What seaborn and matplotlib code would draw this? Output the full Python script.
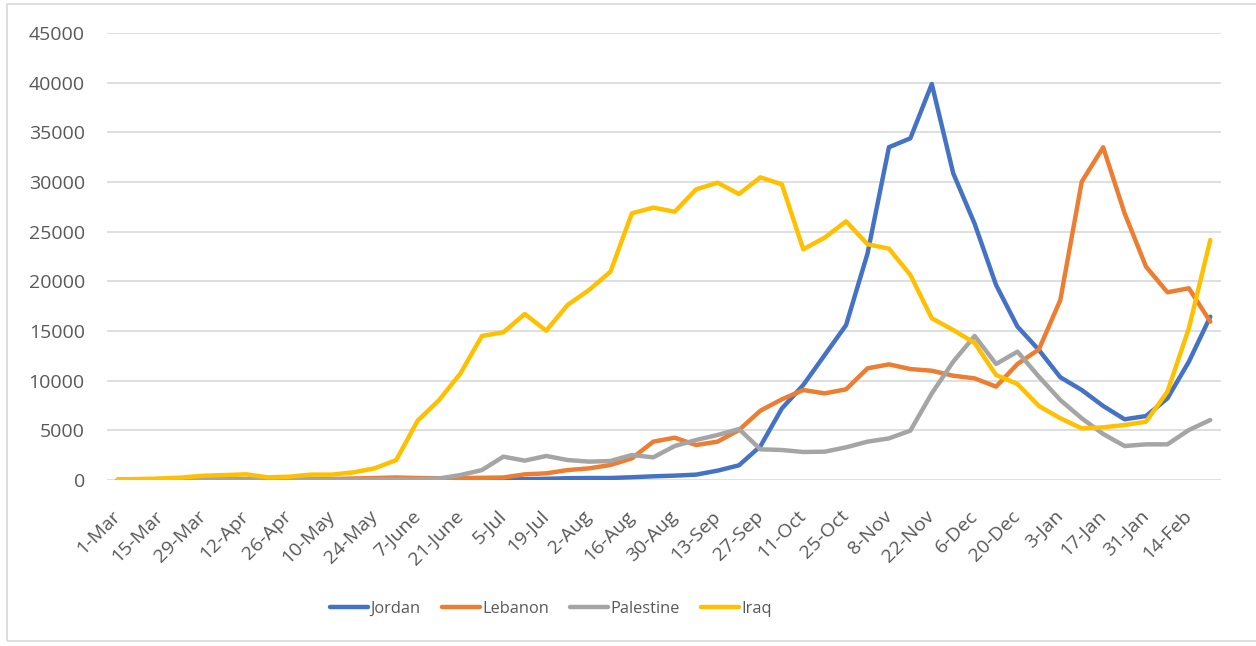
import matplotlib
matplotlib.use("Agg")
import matplotlib.pyplot as plt
from matplotlib.patches import Rectangle
from matplotlib.lines import Line2D
import seaborn as sns
import pandas as pd

# Weekly new cases, week starting dates (Mar 2020 - Feb 2021)
weeks = [
    "1-Mar", "8-Mar", "15-Mar", "22-Mar", "29-Mar", "5-Apr", "12-Apr", "19-Apr",
    "26-Apr", "3-May", "10-May", "17-May", "24-May", "31-May", "7-June", "14-June",
    "21-June", "28-June", "5-Jul", "12-Jul", "19-Jul", "26-Jul", "2-Aug", "9-Aug",
    "16-Aug", "23-Aug", "30-Aug", "6-Sep", "13-Sep", "20-Sep", "27-Sep", "4-Oct",
    "11-Oct", "18-Oct", "25-Oct", "1-Nov", "8-Nov", "15-Nov", "22-Nov", "29-Nov",
    "6-Dec", "13-Dec", "20-Dec", "27-Dec", "3-Jan", "10-Jan", "17-Jan", "24-Jan",
    "31-Jan", "7-Feb", "14-Feb", "21-Feb",
]

jordan = [10, 40, 90, 60, 40, 30, 20, 15, 10, 20, 30, 20, 15, 30, 40, 50, 30, 40,
          60, 80, 120, 180, 200, 200, 280, 370, 440, 540, 940, 1480, 3400, 7200,
          9560, 12580, 15600, 22800, 33500, 34400, 39870, 30880, 25800, 19630,
          15440, 13090, 10340, 9060, 7450, 6110, 6440, 8220, 11910, 16440]

lebanon = [5, 20, 60, 100, 150, 120, 80, 40, 30, 50, 100, 150, 200, 250, 200, 180,
           200, 220, 250, 570, 670, 1000, 1170, 1510, 2180, 3860, 4260, 3520, 3860,
           5030, 6980, 8120, 9060, 8720, 9130, 11240, 11640, 11170, 11000, 10500,
           10230, 9400, 11680, 13150, 18120, 30030, 33490, 26850, 21480, 18900,
           19300, 15940]

palestine = [0, 5, 10, 20, 30, 40, 30, 20, 20, 30, 40, 50, 60, 70, 80, 150, 500,
             1000, 2350, 1950, 2420, 2010, 1850, 1910, 2520, 2280, 3420, 4030, 4530,
             5130, 3090, 3020, 2820, 2850, 3290, 3860, 4190, 4970, 8720, 11910,
             14500, 11680, 12920, 10400, 8050, 6210, 4630, 3420, 3590, 3590, 5030,
             6040]

iraq = [50, 100, 150, 250, 430, 500, 570, 270, 330, 540, 540, 770, 1180, 2010, 5970,
        8050, 10740, 14500, 14870, 16710, 15030, 17620, 19130, 20970, 26850, 27420,
        27010, 29260, 29930, 28790, 30470, 29770, 23230, 24400, 26040, 23730, 23290,
        20640, 16280, 15100, 13800, 10570, 9660, 7450, 6210, 5200, 5300, 5540, 5870,
        8890, 15270, 24160]

countries = ["Jordan", "Lebanon", "Palestine", "Iraq"]
colors = ["#4472C4", "#ED7D31", "#A5A5A5", "#FFC000"]
y_ticks = list(range(0, 45001, 5000))

series = dict(zip(countries, [jordan, lebanon, palestine, iraq]))
df = pd.concat(
    [pd.DataFrame({"pos": range(len(weeks)), "week": weeks, "cases": vals, "country": name})
     for name, vals in series.items()],
    ignore_index=True,
)

sns.set_theme(style="white")
plt.rcParams["font.family"] = ["Open Sans", "DejaVu Sans"]
text_color = "#595959"
grid_color = "#D9D9D9"

W, H = 1256, 646
fig = plt.figure(figsize=(W / 100, H / 100), dpi=100)
ax = fig.add_axes([107 / W, 1 - 480 / H, (1221 - 107) / W, (480 - 33) / H])

sns.lineplot(data=df, x="pos", y="cases", hue="country", hue_order=countries,
             palette=colors, linewidth=3.2, ax=ax, legend=False, sort=False)
for ln in ax.lines:
    ln.set_solid_joinstyle("round")
    ln.set_solid_capstyle("round")

ax.set_xlim(-0.5, len(weeks) - 0.5)
ax.set_ylim(0, 45000)
ax.set_yticks(y_ticks)
ax.set_yticklabels([str(v) for v in y_ticks])
ax.set_xticks(range(0, len(weeks), 2))
ax.set_xticklabels(weeks[::2], rotation=45, ha="right", va="center",
                   rotation_mode="anchor")
ax.set_xlabel("")
ax.set_ylabel("")
ax.yaxis.grid(True, color=grid_color, linewidth=1.2)
ax.xaxis.grid(False)
ax.set_axisbelow(True)
for s in ax.spines.values():
    s.set_visible(False)
ax.tick_params(axis="both", length=0, labelsize=14, colors=text_color)
ax.tick_params(axis="y", pad=16)
ax.tick_params(axis="x", pad=24)

handles = [Line2D([0], [0], color=c, linewidth=3.2, solid_capstyle="round") for c in colors]
fig.legend(handles, countries, loc="center", bbox_to_anchor=(551 / W, 1 - 609 / H),
           ncol=4, frameon=False, fontsize=11.8, handlelength=2.3,
           handletextpad=0.15, columnspacing=1.3, labelcolor=text_color)

fig.patches.append(Rectangle((7 / W, 1 - 641 / H), (1262 - 7) / W, (641 - 4) / H,
                             transform=fig.transFigure, fill=False,
                             edgecolor=grid_color, linewidth=1.2))

fig.savefig("out.png", dpi=100)
